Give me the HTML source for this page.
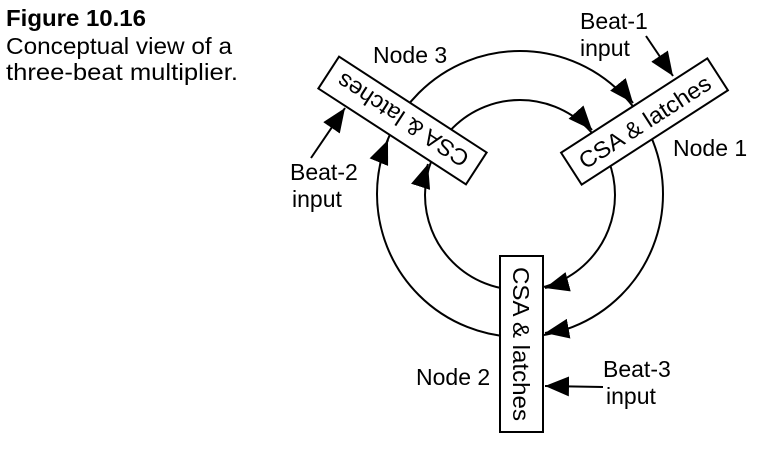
<!DOCTYPE html>
<html><head><meta charset="utf-8"><style>
html,body{margin:0;padding:0;background:#fff;}
svg{display:block;}
text{font-family:"Liberation Sans",sans-serif;fill:#000;}
</style></head><body>
<svg width="770" height="451" viewBox="0 0 770 451" xmlns="http://www.w3.org/2000/svg">
<defs>
<marker id="ah" markerWidth="24" markerHeight="20" refX="24" refY="10" orient="auto" markerUnits="userSpaceOnUse">
<polygon points="0,0 24,10 0,20" fill="#000"/>
</marker>
</defs>
<text x="6" y="26" font-size="23" font-weight="bold" textLength="140" lengthAdjust="spacingAndGlyphs">Figure  10.16</text>
<text x="6" y="54" font-size="23" textLength="226" lengthAdjust="spacingAndGlyphs">Conceptual view of a</text>
<text x="6" y="80" font-size="23" textLength="232" lengthAdjust="spacingAndGlyphs">three-beat multiplier.</text>

<circle cx="520" cy="194" r="143" fill="none" stroke="#000" stroke-width="2"/>
<circle cx="520" cy="195" r="95" fill="none" stroke="#000" stroke-width="2"/>

<line x1="620.4" y1="87.4" x2="633" y2="103" stroke="#000" stroke-width="2" marker-end="url(#ah)"/>
<line x1="578.6" y1="115" x2="592" y2="130" stroke="#000" stroke-width="2" marker-end="url(#ah)"/>
<line x1="564.7" y1="329.4" x2="545" y2="333" stroke="#000" stroke-width="2" marker-end="url(#ah)"/>
<line x1="564.4" y1="282.8" x2="545" y2="288" stroke="#000" stroke-width="2" marker-end="url(#ah)"/>
<line x1="380.4" y1="158.4" x2="388" y2="140" stroke="#000" stroke-width="2" marker-end="url(#ah)"/>
<line x1="421.8" y1="183" x2="428" y2="164" stroke="#000" stroke-width="2" marker-end="url(#ah)"/>

<g transform="translate(644.5,121.5) rotate(-32.8)">
<rect x="-87" y="-19" width="174" height="38" fill="#fff" stroke="#000" stroke-width="2"/>
<text x="0" y="8.5" font-size="23" text-anchor="middle" textLength="152" lengthAdjust="spacingAndGlyphs">CSA &amp; latches</text>
</g>
<g transform="translate(402.5,120.5) rotate(213)">
<rect x="-88" y="-19" width="176" height="38" fill="#fff" stroke="#000" stroke-width="2"/>
<text x="0" y="8.5" font-size="23" text-anchor="middle" textLength="152" lengthAdjust="spacingAndGlyphs">CSA &amp; latches</text>
</g>
<g transform="translate(521.5,344) rotate(90)">
<rect x="-88" y="-21.5" width="176" height="43" fill="#fff" stroke="#000" stroke-width="2"/>
<text x="0" y="8.5" font-size="23" text-anchor="middle" textLength="154" lengthAdjust="spacingAndGlyphs">CSA &amp; latches</text>
</g>

<line x1="646" y1="36" x2="673" y2="76" stroke="#000" stroke-width="2" marker-end="url(#ah)"/>
<line x1="311" y1="158" x2="345" y2="108" stroke="#000" stroke-width="2" marker-end="url(#ah)"/>
<line x1="603" y1="387" x2="545" y2="386" stroke="#000" stroke-width="2" marker-end="url(#ah)"/>

<text x="580" y="29" font-size="23">Beat-1</text>
<text x="580" y="56" font-size="23">input</text>
<text x="373" y="63" font-size="23">Node 3</text>
<text x="673" y="156" font-size="23">Node 1</text>
<text x="290" y="180" font-size="23">Beat-2</text>
<text x="292" y="207" font-size="23">input</text>
<text x="416" y="385" font-size="23">Node 2</text>
<text x="603" y="377" font-size="23">Beat-3</text>
<text x="606" y="404" font-size="23">input</text>
</svg>
</body></html>
